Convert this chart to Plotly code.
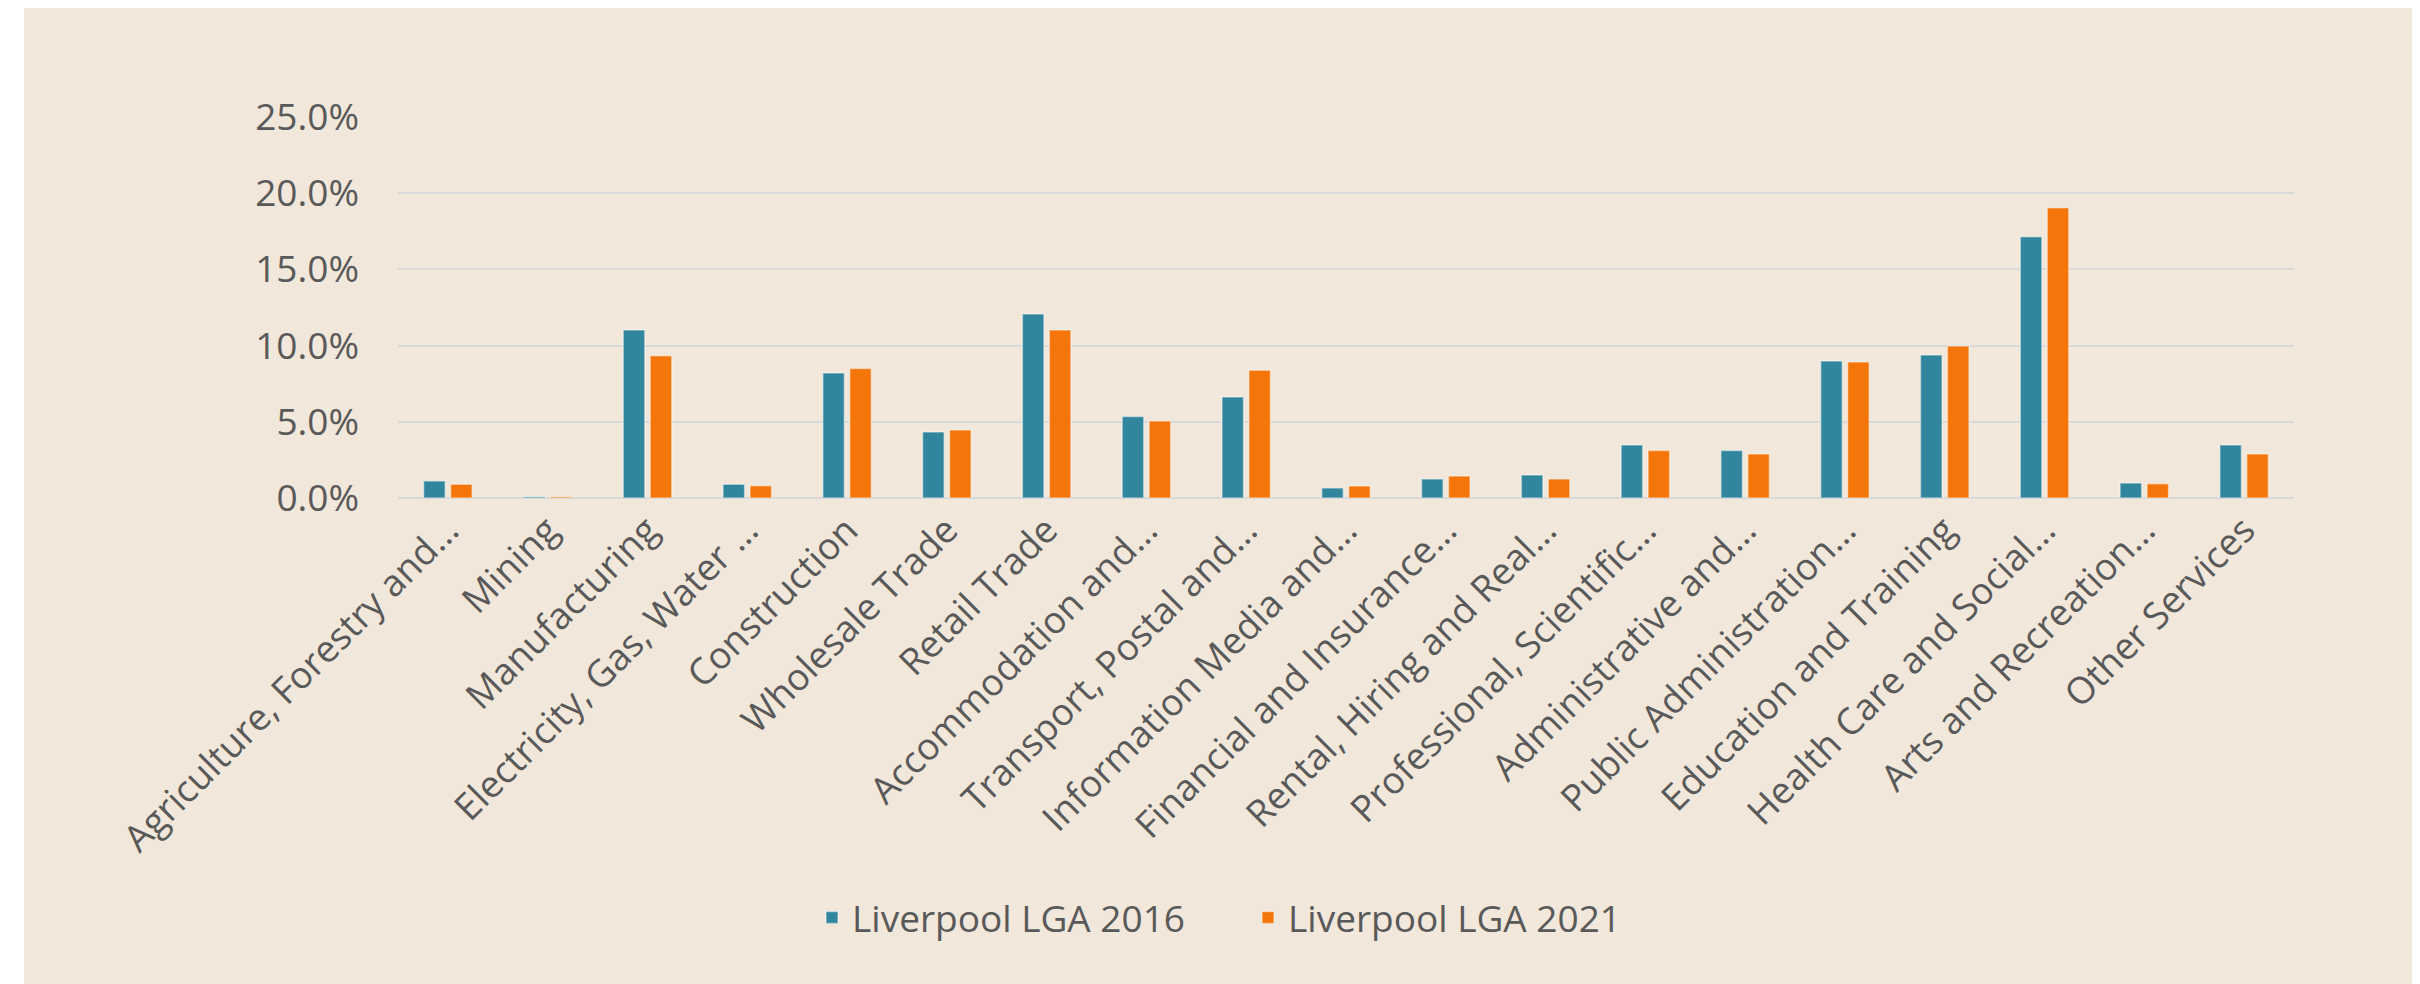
import plotly.graph_objects as go

categories = [
    "Agriculture, Forestry and…", "Mining", "Manufacturing", "Electricity, Gas, Water …",
    "Construction", "Wholesale Trade", "Retail Trade", "Accommodation and…",
    "Transport, Postal and…", "Information Media and…", "Financial and Insurance…",
    "Rental, Hiring and Real…", "Professional, Scientific…", "Administrative and…",
    "Public Administration…", "Education and Training", "Health Care and Social…",
    "Arts and Recreation…", "Other Services",
]
lga_2016 = [0.0112, 0.0008, 0.1102, 0.0090, 0.0820, 0.0433, 0.1207, 0.0534, 0.0663, 0.0066,
            0.0125, 0.0151, 0.0348, 0.0311, 0.0899, 0.0938, 0.1715, 0.0098, 0.0348]
lga_2021 = [0.0090, 0.0008, 0.0934, 0.0081, 0.0849, 0.0446, 0.1102, 0.0505, 0.0838, 0.0079,
            0.0144, 0.0125, 0.0311, 0.0289, 0.0892, 0.0997, 0.1905, 0.0094, 0.0289]
series_names = ["Liverpool LGA 2016", "Liverpool LGA 2021"]
y_ticks = [0, 0.05, 0.10, 0.15, 0.20, 0.25]

# the page body has an 8px margin, so the figure is drawn 8px in from the window corner
OFF = 8
W, H = 2420 - OFF, 984 - OFF
L = 398 - OFF
T = 117 - OFF
R = W - (2294 - OFF)
B = H - (498 - OFF)
FONT = "Open Sans"
TXT = "#595959"

fig = go.Figure()
fig.add_trace(go.Bar(x=categories, y=lga_2016, name=series_names[0],
                     marker=dict(color="#31859C", line=dict(color="rgba(255,255,255,0.45)", width=1.5))))
fig.add_trace(go.Bar(x=categories, y=lga_2021, name=series_names[1],
                     marker=dict(color="#F47509", line=dict(color="rgba(255,255,255,0.45)", width=1.5))))

pw = W - L - R
ph = H - T - B
def px_x(p):
    return (p - L) / pw
def px_y(p):
    return (H - B - p) / ph

fig.update_layout(
    width=W, height=H,
    margin=dict(l=L, r=R, t=T, b=B, pad=0),
    paper_bgcolor="white",
    plot_bgcolor="rgba(0,0,0,0)",
    barmode="group", bargap=0.46, bargroupgap=0.2,
    font=dict(family=FONT, size=37, color=TXT),
    shapes=[dict(type="rect", xref="paper", yref="paper", layer="below",
                 x0=px_x(24 - OFF), x1=px_x(W), y0=px_y(H), y1=px_y(0),
                 fillcolor="#F1E7DA", line=dict(width=0))],
    legend=dict(orientation="h", xref="container", yref="container",
                x=(1248 - OFF) / W, xanchor="center", y=1 - (918 - OFF) / H, yanchor="middle",
                font=dict(family=FONT, size=37, color=TXT),
                bgcolor="rgba(0,0,0,0)", itemwidth=30, entrywidth=391, tracegroupgap=0),
    showlegend=True,
)
fig.update_xaxes(type="category", tickangle=-45, showgrid=False, showline=False,
                 ticks="", ticklabelstandoff=2,
                 tickfont=dict(family=FONT, size=37, color=TXT))
fig.update_yaxes(range=[0, 0.25], tickvals=y_ticks, tickformat=".1%",
                 showgrid=True, gridcolor="#D9D9D9", gridwidth=2,
                 zeroline=True, zerolinecolor="#D9D9D9", zerolinewidth=2,
                 showline=False, ticks="", ticklabelstandoff=38,
                 tickfont=dict(family=FONT, size=37, color=TXT))

fig.write_html("out.html")
